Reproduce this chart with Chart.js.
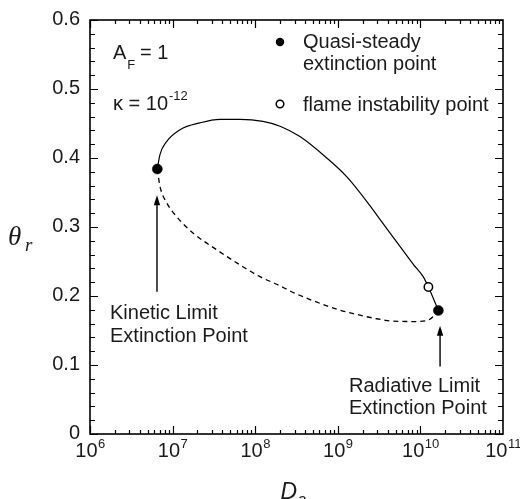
<!DOCTYPE html>
<html>
<head>
<meta charset="utf-8">
<script src="https://cdn.jsdelivr.net/npm/chart.js@4.4.1/dist/chart.umd.min.js"></script>
<style>
  html, body { margin: 0; padding: 0; background: #ffffff; }
  #wrap { width: 520px; height: 499px; position: relative; }
</style>
</head>
<body>
<div id="wrap"><canvas id="c"></canvas></div>
<script>
// ---------- data ----------
const upperDa    = [6.53e6, 7.03e6, 8.49e6, 1.23e7, 2.15e7, 3.75e7, 6.55e7, 1.24e8, 2.0e8, 3.48e8, 7.35e8, 1.28e9, 2.45e9, 3.24e9, 5.66e9, 8.2e9, 1.08e10, 1.25e10, 1.65e10];
const upperTheta = [0.384, 0.405, 0.424, 0.441, 0.451, 0.456, 0.456, 0.453, 0.446, 0.431, 0.400, 0.373, 0.331, 0.311, 0.272, 0.246, 0.228, 0.213, 0.179];

const lowerDa    = [6.53e6, 7.03e6, 8.49e6, 1.12e7, 1.78e7, 3.42e7, 6.55e7, 1.14e8, 1.82e8, 3.03e8, 5.05e8, 9.7e8, 1.54e9, 2.69e9, 4.7e9, 8.6e9, 1.24e10, 1.42e10, 1.65e10];
const lowerTheta = [0.384, 0.359, 0.335, 0.315, 0.291, 0.267, 0.245, 0.228, 0.217, 0.204, 0.193, 0.181, 0.1745, 0.168, 0.1635, 0.163, 0.165, 0.170, 0.179];

const extinctionDa    = [6.53e6, 1.65e10];
const extinctionTheta = [0.384, 0.179];
const instabilityDa    = [1.25e10];
const instabilityTheta = [0.213];

const kineticArrow   = { x: 6.47e6, from: 0.206, to: 0.346 };
const radiativeArrow = { x: 1.73e10, from: 0.098, to: 0.157 };

const yTickValues = [0, 0.1, 0.2, 0.3, 0.4, 0.5, 0.6];
const yTickLabels = ['0', '0.1', '0.2', '0.3', '0.4', '0.5', '0.6'];
const xTickExponents = [6, 7, 8, 9, 10, 11];

// ---------- helpers ----------
const toXY = (xs, ys) => xs.map((x, i) => ({ x: x, y: ys[i] }));
const SANS = '"Liberation Sans", Arial, Helvetica, sans-serif';
const SERIF = '"Liberation Serif", "Times New Roman", serif';
const INK = '#1a1a1a';

const decorPlugin = {
  id: 'decor',
  afterDraw(chart) {
    const ctx = chart.ctx;
    const a = chart.chartArea;
    const xs = chart.scales.x, ys = chart.scales.y;
    ctx.save();

    // frame
    ctx.strokeStyle = '#000';
    ctx.lineWidth = 1.6;
    ctx.strokeRect(a.left, a.top, a.right - a.left, a.bottom - a.top);

    // y ticks (inward, both sides)
    ctx.lineWidth = 1.2;
    ctx.beginPath();
    for (let k = 0; k <= 30; k++) {
      const v = k * 0.02;
      const py = Math.round(ys.getPixelForValue(v)) + 0.5;
      const len = (k % 5 === 0) ? 8 : 5;
      ctx.moveTo(a.left, py); ctx.lineTo(a.left + len, py);
      ctx.moveTo(a.right, py); ctx.lineTo(a.right - len, py);
    }
    // x ticks (inward, bottom and top)
    for (let d = 6; d <= 10; d++) {
      for (let m = 1; m <= 9; m++) {
        const px = Math.round(xs.getPixelForValue(m * Math.pow(10, d))) + 0.5;
        const len = (m === 1) ? 8 : 4;
        ctx.moveTo(px, a.bottom); ctx.lineTo(px, a.bottom - len);
        ctx.moveTo(px, a.top); ctx.lineTo(px, a.top + len);
      }
    }
    ctx.stroke();

    ctx.fillStyle = INK;
    // y tick labels
    ctx.font = '20px ' + SANS;
    ctx.textAlign = 'right';
    ctx.textBaseline = 'middle';
    yTickValues.forEach((v, i) => {
      ctx.fillText(yTickLabels[i], 80, ys.getPixelForValue(v) - 1);
    });

    // x tick labels 10^n
    ctx.textAlign = 'left';
    ctx.textBaseline = 'alphabetic';
    xTickExponents.forEach(e => {
      const px = xs.getPixelForValue(Math.pow(10, e));
      ctx.font = '20px ' + SANS;
      const wb = ctx.measureText('10').width;
      ctx.font = '13px ' + SANS;
      const we = ctx.measureText(String(e)).width;
      const start = px - (wb + we) / 2;
      ctx.font = '20px ' + SANS;
      ctx.fillText('10', start, 457);
      ctx.font = '13px ' + SANS;
      ctx.fillText(String(e), start + wb + 0.5, 448);
    });

    // axis titles
    ctx.font = 'italic 23px ' + SANS;
    const wD = ctx.measureText('D').width;
    const cx = (a.left + a.right) / 2;
    ctx.fillText('D', cx - 16, 499);
    ctx.font = 'italic 16px ' + SANS;
    ctx.fillText('a', cx - 16 + wD + 0.5, 505);

    ctx.font = 'italic 27px ' + SERIF;
    ctx.fillText('\u03B8', 8, 245);
    ctx.font = 'italic 19px ' + SERIF;
    ctx.fillText('r', 25, 251);

    // parameter annotations
    ctx.font = '20px ' + SANS;
    ctx.fillText('A', 113, 59);
    const wA = ctx.measureText('A').width;
    ctx.font = '13px ' + SANS;
    ctx.fillText('F', 113 + wA + 1, 69);
    ctx.font = '20px ' + SANS;
    ctx.fillText('= 1', 140, 59);

    ctx.fillText('\u03BA = 10', 113, 110);
    const wk = ctx.measureText('\u03BA = 10').width;
    ctx.font = '13px ' + SANS;
    ctx.fillText('-12', 113 + wk + 1, 100);

    // legend
    ctx.beginPath();
    ctx.arc(280, 42, 4.2, 0, Math.PI * 2);
    ctx.fillStyle = '#000';
    ctx.fill();
    ctx.beginPath();
    ctx.arc(280, 104, 3.8, 0, Math.PI * 2);
    ctx.fillStyle = '#fff';
    ctx.fill();
    ctx.lineWidth = 1.5;
    ctx.strokeStyle = '#000';
    ctx.stroke();

    ctx.fillStyle = INK;
    ctx.font = '20px ' + SANS;
    ctx.fillText('Quasi-steady', 303, 48);
    ctx.fillText('extinction point', 303, 70);
    ctx.fillText('flame instability point', 303, 111);

    // annotation labels
    ctx.fillText('Kinetic Limit', 110, 319);
    ctx.fillText('Extinction Point', 110, 342);
    ctx.fillText('Radiative Limit', 349, 392);
    ctx.fillText('Extinction Point', 349, 414);

    // arrows
    const drawArrow = (ar) => {
      const px = xs.getPixelForValue(ar.x);
      const y0 = ys.getPixelForValue(ar.from);
      const y1 = ys.getPixelForValue(ar.to);
      ctx.strokeStyle = '#000';
      ctx.lineWidth = 1.4;
      ctx.beginPath();
      ctx.moveTo(px, y0); ctx.lineTo(px, y1 + 8);
      ctx.stroke();
      ctx.fillStyle = '#000';
      ctx.beginPath();
      ctx.moveTo(px, y1);
      ctx.lineTo(px - 3.2, y1 + 10);
      ctx.lineTo(px + 3.2, y1 + 10);
      ctx.closePath();
      ctx.fill();
    };
    drawArrow(kineticArrow);
    drawArrow(radiativeArrow);

    ctx.restore();
  }
};

new Chart(document.getElementById('c'), {
  type: 'scatter',
  data: {
    datasets: [
      {
        label: 'Quasi-steady extinction point',
        data: toXY(extinctionDa, extinctionTheta),
        pointRadius: 5,
        pointBackgroundColor: '#000',
        pointBorderColor: '#000',
        pointBorderWidth: 0.5,
        showLine: false,
        order: 0
      },
      {
        label: 'flame instability point',
        data: toXY(instabilityDa, instabilityTheta),
        pointRadius: 4.2,
        pointBackgroundColor: '#fff',
        pointBorderColor: '#000',
        pointBorderWidth: 1.5,
        showLine: false,
        order: 1
      },
      {
        label: 'stable branch',
        data: toXY(upperDa, upperTheta),
        showLine: true,
        borderColor: '#000',
        borderWidth: 1.2,
        pointRadius: 0,
        cubicInterpolationMode: 'monotone',
        order: 2
      },
      {
        label: 'unstable branch',
        data: toXY(lowerDa, lowerTheta),
        showLine: true,
        borderColor: '#000',
        borderWidth: 1.3,
        borderDash: [5, 4],
        pointRadius: 0,
        cubicInterpolationMode: 'monotone',
        order: 3
      }
    ]
  },
  options: {
    responsive: true,
    maintainAspectRatio: false,
    animation: false,
    layout: { padding: { left: 90, top: 20, right: 17, bottom: 65 } },
    plugins: { legend: { display: false }, tooltip: { enabled: false } },
    scales: {
      x: { type: 'logarithmic', min: 1e6, max: 1e11, display: false },
      y: { type: 'linear', min: 0, max: 0.6, display: false }
    }
  },
  plugins: [decorPlugin]
});
</script>
</body>
</html>
